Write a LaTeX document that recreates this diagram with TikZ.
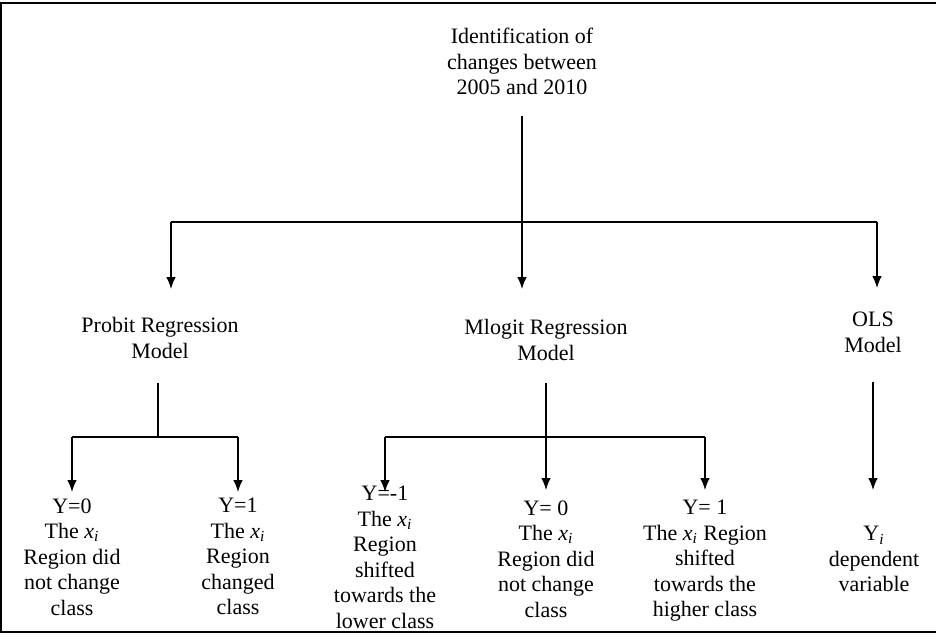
\documentclass[tikz,border=0pt]{standalone}
\usepackage{fontspec}
\setmainfont{Liberation Serif}
\usetikzlibrary{arrows.meta}
\newcommand{\xsub}{\textit{x}\textsubscript{\textit{i}}}
\begin{document}
\begin{tikzpicture}
	[x=0.5pt,y=-0.5pt,
	box/.style={align=center,inner sep=0pt,anchor=north,font=\fontsize{11}{12.75}\selectfont},
	wire/.style={line width=0.7pt},
	link/.style={->,line width=0.7pt},
	>={Latex[length=6pt,width=4.8pt]}]
	\useasboundingbox (0,0) rectangle (936,637);
	\draw[line width=1.2pt] (936,3) -- (1,3) -- (1,632) -- (936,632);
	\coordinate (row1) at (0,222);
	\coordinate (row3) at (0,437);
	\node[box,name=top] at (522,28) {Identification of\\changes between\\2005 and 2010};
	\node[box,name=probit] at (160,317) {Probit Regression\\Model};
	\node[box,name=mlogit] at (546,319) {Mlogit Regression\\Model};
	\node[box,name=ols] at (873,312) {OLS\\Model};
	\node[box,name=p0] at (72,498) {Y=0\\The \xsub\\Region did\\not change\\class};
	\node[box,name=p1] at (238,498) {Y=1\\The \xsub\\Region\\changed\\class};
	\node[box,name=m1] at (385,486) {Y=-1\\The \xsub\\Region\\shifted\\towards the\\lower class};
	\node[box,name=m0] at (546,500) {Y= 0\\The \xsub\\Region did\\not change\\class};
	\node[box,name=m2] at (705,500) {Y= 1\\The \xsub{} Region\\shifted\\towards the\\higher class};
	\node[box,name=yi] at (874,526) {Y\textsubscript{\textit{i}}\\dependent\\variable};
	\path (probit.north) ++(11,0) coordinate (probitIn);
	\path (mlogit.north) ++(-24,0) coordinate (mlogitIn);
	\path (ols.north) ++(4,0) coordinate (olsIn);
	\path (probit.south) ++(-2,0) coordinate (probitOut);
	% first level
	\draw[wire,shorten <=10pt] (top.south) -- (top.south |- row1);
	\draw[wire] (probitIn |- row1) -- (olsIn |- row1);
	\draw[link,shorten >=14pt] (probitIn |- row1) -- (probitIn);
	\draw[link,shorten >=15pt] (mlogitIn |- row1) -- (mlogitIn);
	\draw[link,shorten >=12pt] (olsIn |- row1) -- (olsIn);
	% second level
	\draw[line width=1.1pt,shorten <=12pt] (probitOut) -- (probitOut |- row3);
	\draw[wire] (p0 |- row3) -- (p1 |- row3);
	\draw[link,shorten >=3pt] (p0 |- row3) -- (p0.north);
	\draw[link,shorten >=3pt] (p1 |- row3) -- (p1.north);
	\draw[wire,shorten <=11pt] (mlogit.south) -- (mlogit.south |- row3);
	\draw[wire] (m1 |- row3) -- (m2 |- row3);
	\draw[link,shorten >=-3pt] (m1 |- row3) -- (m1.north);
	\draw[link,shorten >=5pt] (m0 |- row3) -- (m0.north);
	\draw[link,shorten >=5pt] (m2 |- row3) -- (m2.north);
	\draw[link,shorten <=14.5pt,shorten >=18pt] (ols.south) -- (ols.south |- yi.north);
\end{tikzpicture}
\end{document}
